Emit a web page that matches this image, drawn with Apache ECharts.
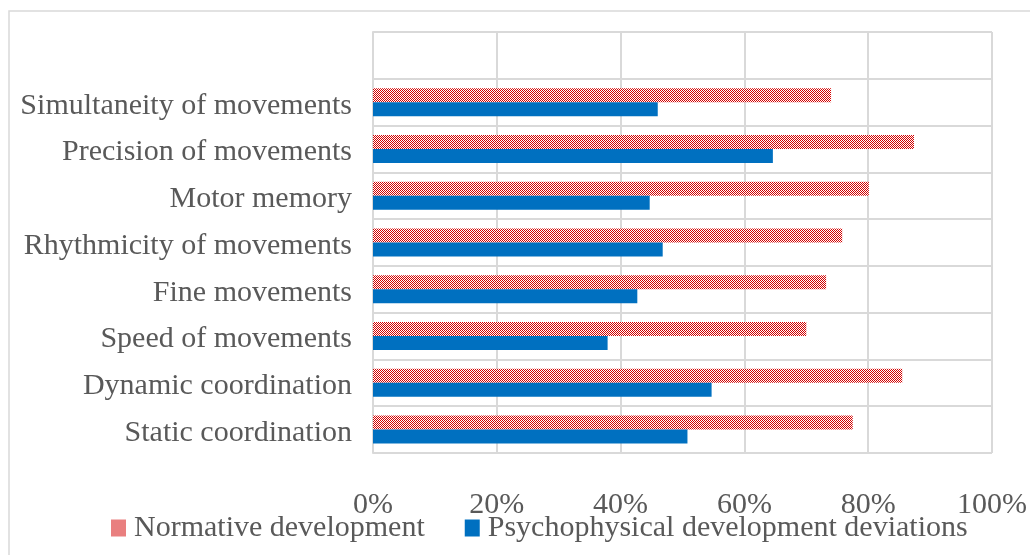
<!DOCTYPE html>
<html>
<head>
<meta charset="utf-8">
<script src="https://cdn.jsdelivr.net/npm/echarts@6/dist/echarts.min.js"></script>
<style>
  html, body { margin: 0; padding: 0; background: #fff; }
  #chart { width: 1030px; height: 555px; }
</style>
</head>
<body>
<div id="chart"></div>
<script>
// categories bottom to top, the top band is empty in the source
const categories = [
  'Static coordination',
  'Dynamic coordination',
  'Speed of movements',
  'Fine movements',
  'Rhythmicity of movements',
  'Motor memory',
  'Precision of movements',
  'Simultaneity of movements',
  ''
];
const normative = [77.5, 85.5, 70, 73.2, 75.8, 80.1, 87.4, 74, null];
const deviations = [50.8, 54.7, 37.9, 42.7, 46.8, 44.7, 64.6, 46, null];
const ticks = [0, 20, 40, 60, 80, 100];

// small checker tile for the red hatched bars
function checker() {
  const c = document.createElement('canvas');
  c.width = 2;
  c.height = 2;
  const ctx = c.getContext('2d');
  ctx.fillStyle = '#ffffff';
  ctx.fillRect(0, 0, 2, 2);
  ctx.fillStyle = '#d40000';
  ctx.fillRect(0, 0, 1, 1);
  ctx.fillRect(1, 1, 1, 1);
  return c;
}

const font = 'Liberation Serif';
const textColor = '#595959';
const gridColor = '#d9d9d9';

const chart = echarts.init(document.getElementById('chart'));
chart.setOption({
  animation: false,
  backgroundColor: '#fff',
  graphic: [{
    type: 'rect',
    shape: { x: 9, y: 11, width: 1100, height: 600 },
    style: { fill: 'none', stroke: gridColor, lineWidth: 1.5 }
  }],
  grid: { left: 373, right: 36, top: 32, bottom: 102 },
  legend: {
    left: 106,
    top: 508,
    icon: 'rect',
    itemWidth: 15,
    itemHeight: 17,
    itemGap: 40,
    textStyle: { fontFamily: font, fontSize: 30, color: textColor, padding: [0, 0, 0, 3] },
    data: ['Normative development', 'Psychophysical development deviations']
  },
  xAxis: {
    type: 'value',
    min: 0,
    max: 100,
    interval: 20,
    axisLine: { show: false },
    axisTick: { show: false },
    splitLine: { lineStyle: { color: gridColor, width: 2 } },
    axisLabel: {
      margin: 37,
      fontFamily: font,
      fontSize: 30,
      color: textColor,
      formatter: v => (ticks.indexOf(v) >= 0 ? v + '%' : '')
    }
  },
  yAxis: {
    type: 'category',
    data: categories,
    axisLine: { lineStyle: { color: gridColor, width: 2 } },
    axisTick: { show: false },
    splitLine: { show: true, lineStyle: { color: gridColor, width: 2 } },
    axisLabel: {
      margin: 21,
      fontFamily: font,
      fontSize: 30,
      color: textColor,
      formatter: v => (v ? '{a|' + v + '}' : ''),
      rich: {
        a: { fontFamily: font, fontSize: 30, color: textColor, padding: [7, 0, 0, 0] }
      }
    }
  },
  series: [
    {
      name: 'Normative development',
      type: 'bar',
      data: normative,
      barWidth: 14,
      barGap: '0%',
      itemStyle: { color: { image: checker(), repeat: 'repeat' } }
    },
    {
      name: 'Psychophysical development deviations',
      type: 'bar',
      data: deviations,
      barWidth: 14,
      barGap: '0%',
      itemStyle: { color: '#0070c0' }
    }
  ]
});
</script>
</body>
</html>
